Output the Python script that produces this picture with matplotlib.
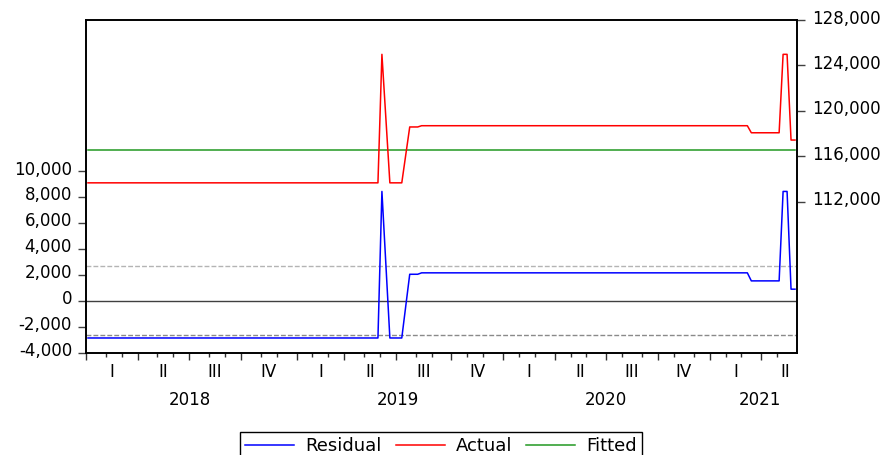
import matplotlib
matplotlib.use("Agg")
import matplotlib.pyplot as plt
import numpy as np
import pandas as pd
from matplotlib.transforms import blended_transform_factory, offset_copy, ScaledTranslation
from matplotlib.lines import Line2D

# ---------------- data (weekly, Monday dated) ----------------
start_date = "2018-01-01"
n_obs = 179
actual_levels = [113675, 124980, 119330, 113675, 116140, 118590, 118700, 118080, 124980, 117440]
actual_runs = [74, 1, 1, 4, 1, 3, 83, 8, 2, 2]
fitted_level = 116555
se_band = 2675
left_ticks = [-4000, -2000, 0, 2000, 4000, 6000, 8000, 10000]
right_ticks = [112000, 116000, 120000, 124000, 128000]
quarter_names = ["I", "II", "III", "IV"]

dates = pd.date_range(start_date, periods=n_obs, freq="W-MON")
actual = np.repeat(actual_levels, actual_runs).astype(float)
fitted = np.full(n_obs, float(fitted_level))
residual = actual - fitted
x = np.arange(n_obs)

plt.rcParams["font.family"] = ["DejaVu Sans"]
fig = plt.figure(figsize=(8.88, 4.55), dpi=100)
W, H = 888.0, 455.0
L, R, T, B = 86, 797, 20, 352.5
ax = fig.add_axes([L / W, 1 - B / H, (R - L) / W, (B - T) / H])
ax2 = ax.twinx()

ax.set_xlim(-0.5, n_obs - 0.5)
ax.set_ylim(-4000, 21650)
ax2.set_ylim(98750, 128000)

# reference lines
ax.axhline(0, color="#404040", lw=1.0, zorder=1)
ax.axhline(se_band, color="#b4b4b4", lw=1.0, ls=(0, (3.5, 1.5)), zorder=1)
ax.axhline(-se_band, color="#8a8a8a", lw=1.0, ls=(0, (3.5, 1.5)), zorder=1)

c_res, c_act, c_fit = "#0000ff", "#ff0000", "#229922"
ax.plot(x, residual, color=c_res, lw=1.1, zorder=3)
ax2.plot(x, actual, color=c_act, lw=1.1, zorder=3)
ax2.plot(x, fitted, color=c_fit, lw=1.1, zorder=2)

# y ticks
ax.set_yticks(left_ticks)
ax.set_yticklabels([f"{v:,}" for v in left_ticks])
ax2.set_yticks(right_ticks)
ax2.set_yticklabels([f"{v:,}" for v in right_ticks])
ax.tick_params(axis="y", direction="out", length=6, width=1, color="#404040", pad=4, labelsize=12)
ax2.tick_params(axis="y", direction="out", length=6, width=1, color="#404040", pad=5, labelsize=12)
shift = ScaledTranslation(0, 3.5 / 100, fig.dpi_scale_trans)
for lbl in ax.get_yticklabels() + ax2.get_yticklabels():
    lbl.set_transform(lbl.get_transform() + shift)

# x ticks: quarters (major) and months (minor)
ext_dates = pd.date_range(start_date, "2021-12-31", freq="W-MON")
qkey = ext_dates.year * 10 + ext_dates.quarter
mkey = ext_dates.year * 100 + ext_dates.month
q_starts = [i for i in range(len(ext_dates)) if i == 0 or qkey[i] != qkey[i - 1]]
m_starts = [i for i in range(len(ext_dates)) if i == 0 or mkey[i] != mkey[i - 1]]
major = [i - 0.5 for i in q_starts if i < n_obs]
minor = [i - 0.5 for i in m_starts if i < n_obs and i not in q_starts]
ax.set_xticks(major)
ax.set_xticks(minor, minor=True)
ax.tick_params(axis="x", which="major", direction="out", length=5, width=1, color="#303030", labelbottom=False)
ax.tick_params(axis="x", which="minor", direction="out", length=3, width=1, color="#303030")
ax2.tick_params(axis="x", which="both", length=0)

trans = blended_transform_factory(ax.transData, ax.transAxes)
tq = offset_copy(trans, fig=fig, x=0, y=-19.5, units="dots")
ty = offset_copy(trans, fig=fig, x=0, y=-47.5, units="dots")
year_pos = {}
for k, s in enumerate(q_starts):
    if s >= n_obs:
        break
    e = q_starts[k + 1] if k + 1 < len(q_starts) else len(ext_dates)
    c = min((s + e) / 2 - 0.5, n_obs - 0.5 - 3)
    d = ext_dates[s]
    ax.text(c, 0, quarter_names[d.quarter - 1], transform=tq, ha="center", va="center", fontsize=12)
    year_pos.setdefault(d.year, []).append(c)
for yr, cs in year_pos.items():
    ax.text(np.mean(cs), 0, str(yr), transform=ty, ha="center", va="center", fontsize=12)

for a in (ax, ax2):
    for sp in a.spines.values():
        sp.set_color("black")
        sp.set_linewidth(1.2)

handles = [Line2D([], [], color=c_res, lw=1.1), Line2D([], [], color=c_act, lw=1.1),
           Line2D([], [], color=c_fit, lw=1.1)]
leg = fig.legend(handles, ["Residual", "Actual", "Fitted"], loc="upper center",
                 bbox_to_anchor=(441 / W, 1 - 432 / H), ncol=3, frameon=True, fancybox=False,
                 edgecolor="black", fontsize=13, handlelength=2.7, handletextpad=0.6,
                 columnspacing=0.8, borderaxespad=0, borderpad=0.3, framealpha=1)
leg.get_frame().set_linewidth(1.0)

fig.savefig("out.png", dpi=100)
